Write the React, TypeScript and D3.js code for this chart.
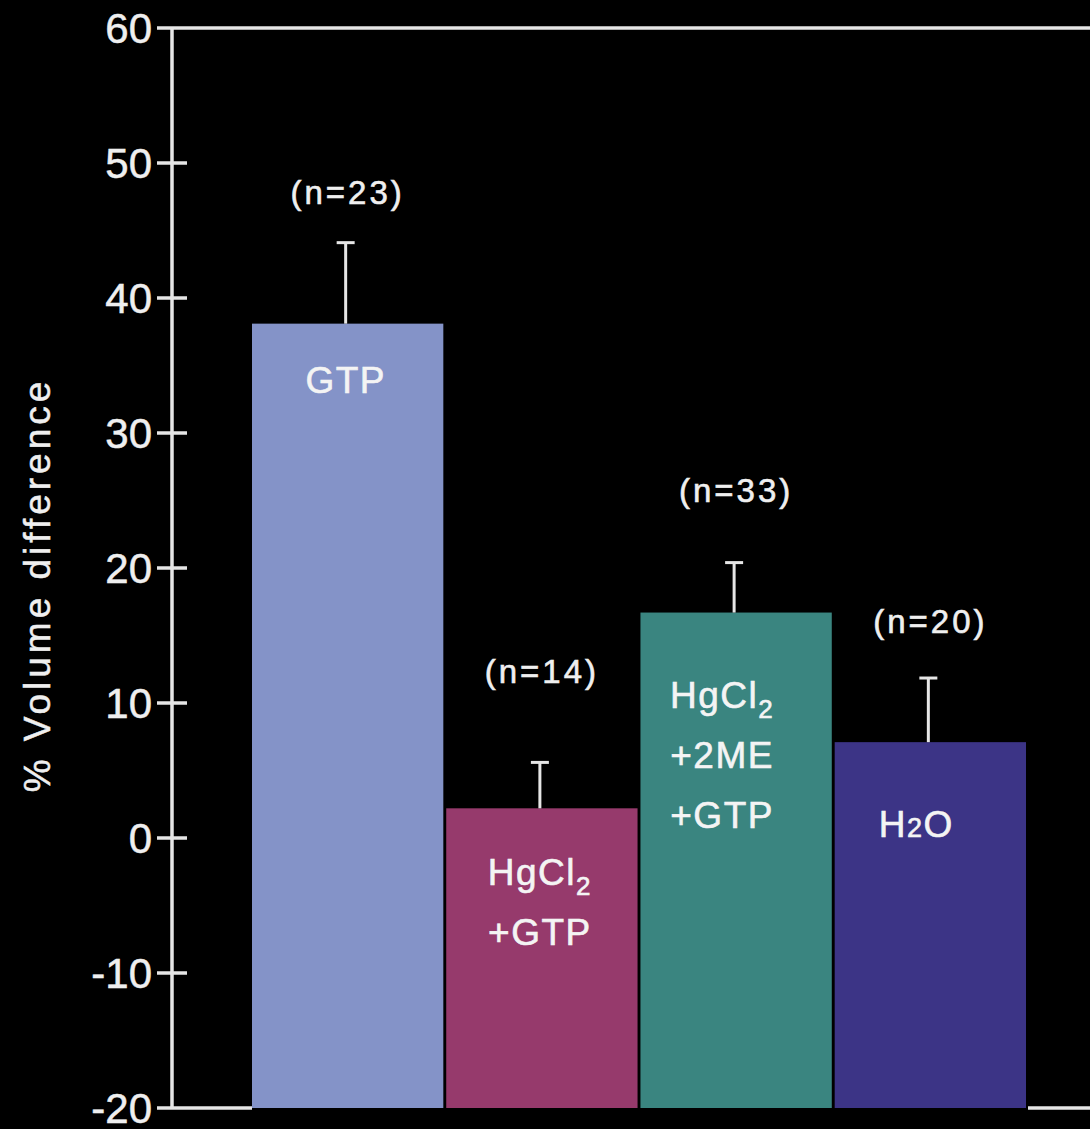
import React from "react";
import * as d3 from "d3";

const categories = ["GTP", "HgCl2+GTP", "HgCl2+2ME+GTP", "H2O"];
const values = [38.1, 2.2, 16.7, 7.1];
const errorTops = [44.1, 5.6, 20.4, 11.85];
const nLabels = ["(n=23)", "(n=14)", "(n=33)", "(n=20)"];
const nLabelLevels = [47.0, 11.5, 24.9, 15.2];
const barLabelLevels = [33.0, -3.5, 9.6, 0.1];
const yTicks = [60, 50, 40, 30, 20, 10, 0, -10, -20];
const colors = ["#8493c8", "#963a6c", "#3a8580", "#3c3486"];

type Seg = { t: string; sub?: boolean; small?: boolean };
const barLabels: Seg[][][] = [
  [[{ t: "GTP" }]],
  [[{ t: "HgCl" }, { t: "2", sub: true }], [{ t: "+GTP" }]],
  [[{ t: "HgCl" }, { t: "2", sub: true }], [{ t: "+2ME" }], [{ t: "+GTP" }]],
  [[{ t: "H" }, { t: "2", small: true }, { t: "O" }]],
];

const W = 1090;
const H = 1129;
const FONT = "'Liberation Sans', Arial, sans-serif";
const LINE = "#e6e6e6";
const TXT = "#efefef";

export default function App() {
  const y = d3.scaleLinear().domain([-20, 60]).range([1108, 28]);
  const x = d3.scaleBand<string>().domain(categories).range([252, 1026]).paddingInner(0.015).paddingOuter(0);
  const axisX = 172;
  const bw = x.bandwidth();

  return (
    <svg
      width={W}
      height={H}
      style={{ position: "absolute", left: 0, top: 0, background: "#000", fontFamily: FONT }}
    >
      <rect x={0} y={0} width={W} height={H} fill="#000" />
      {categories.map((c, i) => (
        <rect
          key={c}
          x={x(c)}
          y={y(values[i])}
          width={bw}
          height={y(-20) - y(values[i])}
          fill={colors[i]}
        />
      ))}
      {categories.map((c, i) => {
        const cx = (x(c) as number) + bw / 2 - 2;
        return (
          <g key={"e" + c} stroke={LINE} strokeWidth={3}>
            <line x1={cx} x2={cx} y1={y(values[i])} y2={y(errorTops[i])} />
            <line x1={cx - 9} x2={cx + 9} y1={y(errorTops[i])} y2={y(errorTops[i])} />
          </g>
        );
      })}
      {categories.map((c, i) => (
        <text
          key={"n" + c}
          x={(x(c) as number) + bw / 2}
          y={y(nLabelLevels[i])}
          textAnchor="middle"
          fill={TXT}
          stroke={TXT}
          strokeWidth={0.6}
          fontSize={33}
          letterSpacing={3}
        >
          {nLabels[i]}
        </text>
      ))}
      {categories.map((c, i) => {
        const cx = (x(c) as number) + bw / 2 - (i >= 2 ? 14 : 2);
        return (
          <g key={"l" + c}>
            {barLabels[i].map((line, li) => (
              <text
                key={li}
                x={cx}
                y={y(barLabelLevels[i]) + li * 60}
                textAnchor="middle"
                fill="#f4f4f4"
                stroke="#f4f4f4"
                strokeWidth={0.6}
                fontSize={37}
                letterSpacing={1.5}
              >
                {line.map((s, si) =>
                  s.sub ? (
                    <tspan key={si} fontSize={26} dy={10}>
                      {s.t}
                    </tspan>
                  ) : s.small ? (
                    <tspan key={si} fontSize={27}>
                      {s.t}
                    </tspan>
                  ) : (
                    <tspan key={si}>{s.t}</tspan>
                  )
                )}
              </text>
            ))}
          </g>
        );
      })}
      <g stroke={LINE} strokeWidth={3.5} fill="none">
        <line x1={axisX} x2={axisX} y1={y(60)} y2={y(-20)} />
        <line x1={157} x2={W} y1={y(60)} y2={y(60)} />
        <line x1={157} x2={x(categories[0]) as number} y1={y(-20)} y2={y(-20)} />
        <line x1={(x(categories[3]) as number) + bw + 2} x2={W} y1={y(-20)} y2={y(-20)} />
        {yTicks
          .filter((t) => t !== 60 && t !== -20)
          .map((t) => (
            <line key={t} x1={157} x2={187} y1={y(t)} y2={y(t)} />
          ))}
      </g>
      {yTicks.map((t) => (
        <text
          key={"t" + t}
          x={152}
          y={y(t)}
          dy="0.36em"
          textAnchor="end"
          fill={TXT}
          stroke={TXT}
          strokeWidth={0.5}
          fontSize={42}
        >
          {t}
        </text>
      ))}
      <text
        transform={`translate(50, ${585}) rotate(-90)`}
        textAnchor="middle"
        fill={TXT}
        stroke={TXT}
        strokeWidth={0.5}
        fontSize={37}
        letterSpacing={4}
      >
        % Volume difference
      </text>
    </svg>
  );
}
